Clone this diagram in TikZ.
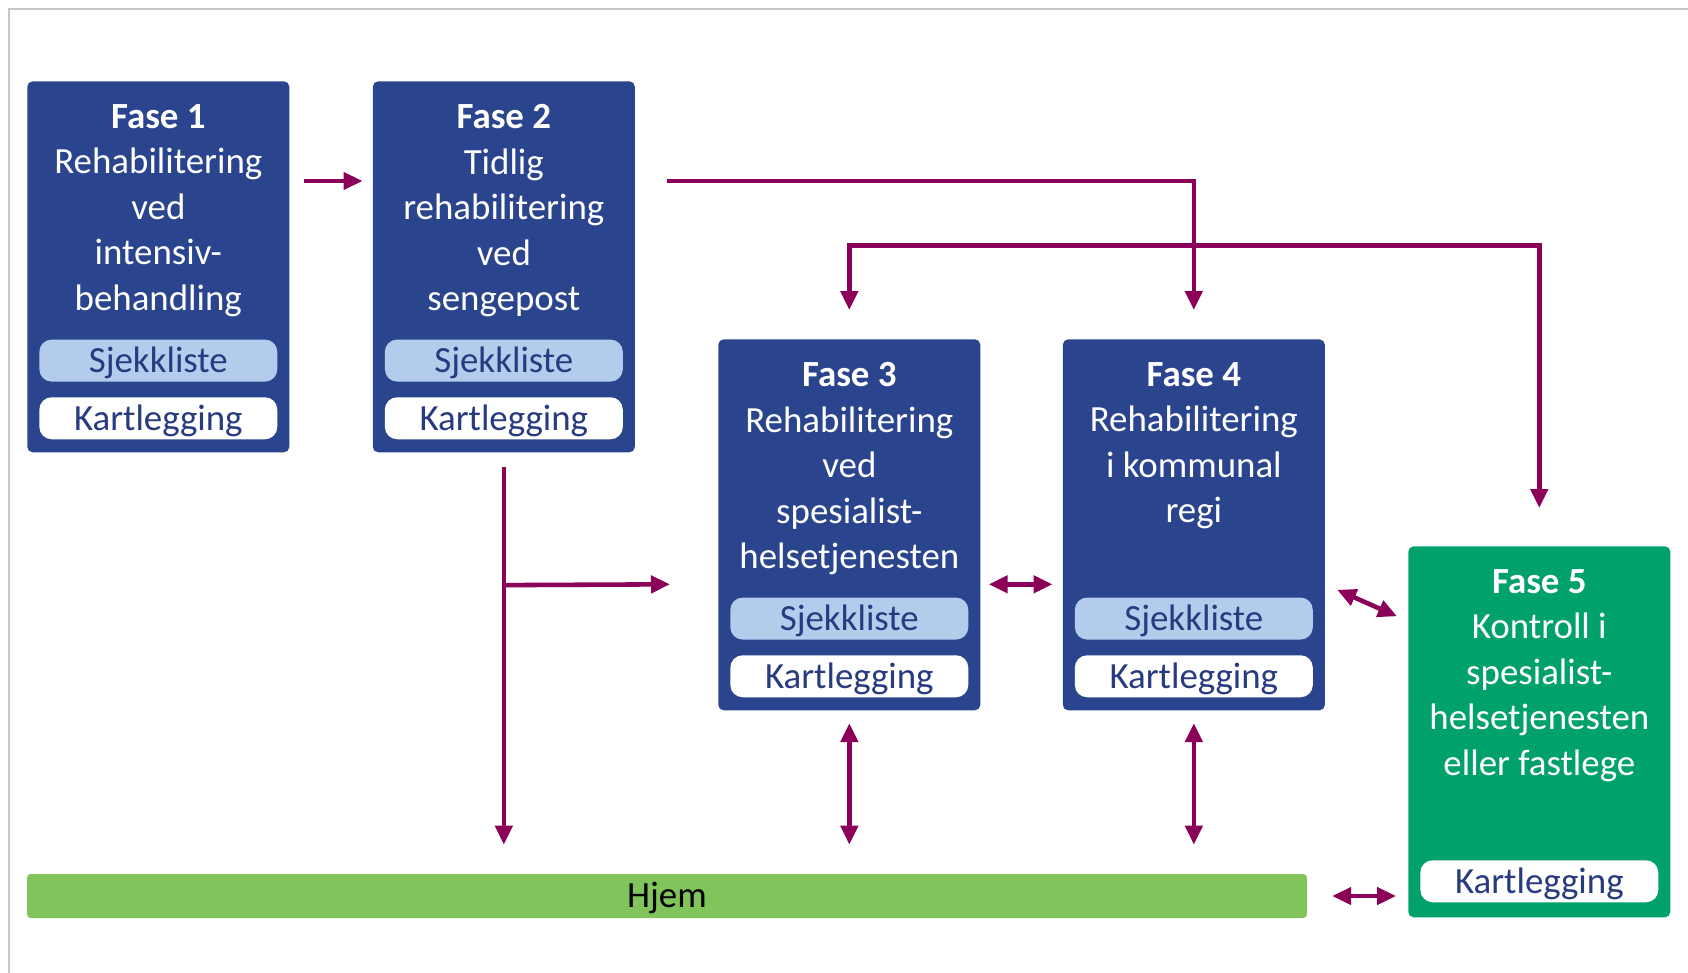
\documentclass[tikz,border=0pt]{standalone}
\usepackage{fontspec}
\setmainfont{Carlito}
\usetikzlibrary{arrows.meta,calc}

\definecolor{faseblaa}{RGB}{42,68,142}
\definecolor{sjekkblaa}{RGB}{180,204,236}
\definecolor{tekstblaa}{RGB}{40,58,128}
\definecolor{fasegronn}{RGB}{0,161,106}
\definecolor{hjemgronn}{RGB}{130,196,92}
\definecolor{pilfarge}{RGB}{139,0,88}

\newcommand{\storfont}{\fontsize{21}{25.9}\selectfont}

\begin{document}
\begin{tikzpicture}[x=0.02cm, y=-0.02cm,
    >={Triangle[length=0.38cm,width=0.34cm]},
    fase/.style={fill=faseblaa, rounded corners=3pt, minimum width=5.24cm,
      minimum height=7.42cm, inner sep=0pt, anchor=north west},
    fasetekst/.style={text=white, align=center, inner sep=0pt, anchor=north, font=\storfont},
    pille/.style={rounded corners=7pt, minimum width=4.76cm, minimum height=0.84cm,
      inner sep=0pt, text height=17.4pt, text depth=4pt, text=tekstblaa, font=\storfont,
      anchor=south},
    sjekk/.style={pille, fill=sjekkblaa},
    kart/.style={pille, fill=white},
    pil/.style={draw=pilfarge, line width=2.6pt}]
  \useasboundingbox (0,0) rectangle (1688,973);
  % ramme fra skjermbildet
  \draw[black!22, line width=1.2pt] (9,973) -- (9,9) -- (1688,9);

  % fasene
  \node[fase] (fase1) at (27,81) {};
  \node[fase] (fase2) at (372.5,81) {};
  \node[fase] (fase3) at (718,339) {};
  \node[fase] (fase4) at (1062.5,339) {};
  \node[fase, fill=fasegronn] (fase5) at (1408,546) {};

  \node[fasetekst] (tekst1) at ($(fase1.north)+(0,23)$)
    {\textbf{Fase 1}\\Rehabilitering\\ved\\intensiv-\\behandling};
  \node[fasetekst] (tekst2) at ($(fase2.north)+(0,23)$)
    {\textbf{Fase 2}\\Tidlig\\rehabilitering\\ved\\sengepost};
  \node[fasetekst] (tekst3) at ($(fase3.north)+(0,23)$)
    {\textbf{Fase 3}\\Rehabilitering\\ved\\spesialist-\\helsetjenesten};
  \node[fasetekst] (tekst4) at ($(fase4.north)+(0,23)$)
    {\textbf{Fase 4}\\Rehabilitering\\i kommunal\\regi};
  \node[fasetekst] (tekst5) at ($(fase5.north)+(0,23)$)
    {\textbf{Fase 5}\\Kontroll i\\spesialist-\\helsetjenesten\\eller fastlege};

  % sjekkliste og kartlegging
  \node[kart] (kart1) at ($(fase1.south)+(0,-13)$) {Kartlegging};
  \node[sjekk] (sjekk1) at ($(kart1.north)+(0,-15)$) {Sjekkliste};
  \node[kart] (kart2) at ($(fase2.south)+(0,-13)$) {Kartlegging};
  \node[sjekk] (sjekk2) at ($(kart2.north)+(0,-15)$) {Sjekkliste};
  \node[kart] (kart3) at ($(fase3.south)+(0,-13)$) {Kartlegging};
  \node[sjekk] (sjekk3) at ($(kart3.north)+(0,-15)$) {Sjekkliste};
  \node[kart] (kart4) at ($(fase4.south)+(0,-13)$) {Kartlegging};
  \node[sjekk] (sjekk4) at ($(kart4.north)+(0,-15)$) {Sjekkliste};
  \node[kart] (kart5) at ($(fase5.south)+(0,-15)$) {Kartlegging};

  % hjem
  \node[fill=hjemgronn, rounded corners=2pt, minimum width=25.6cm, minimum height=0.88cm,
    inner sep=0pt, text height=17.4pt, text depth=4pt, font=\storfont] (hjem) at (667,896) {Hjem};

  % piler
  \draw[pil,->] ($(fase1.north east)+(14,100)$) -- ($(fase2.north west)+(-10,100)$);
  \draw[pil,->] ($(fase2.north east)+(32,100)$) -| ($(fase4.north)+(0,-29)$);
  \draw[pil,<->] ($(fase3.north)+(0,-29)$) -- ($(fase3.north)+(0,-93.5)$)
    -| ($(fase5.north)+(0,-38)$);
  \draw[pil,->] ($(fase2.south)+(0,14)$) -- ($(hjem.north -| fase2.south)+(0,-29)$);
  \draw[pil,->] ($(fase2.south)+(0,132.5)$) -- ($(fase3.west)+(-48,59.5)$);
  \draw[pil,<->] ($(fase3.east)+(8,59.5)$) -- ($(fase4.west)+(-10,59.5)$);
  \draw[pil,<->] ($(fase4.east)+(12,65)$) -- ($(fase5.west)+(-11,-115.5)$);
  \draw[pil,<->] ($(fase3.south)+(0,12.5)$) -- ($(hjem.north -| fase3.south)+(0,-29)$);
  \draw[pil,<->] ($(fase4.south)+(0,12.5)$) -- ($(hjem.north -| fase4.south)+(0,-29)$);
  \draw[pil,<->] ($(hjem.east)+(25,0)$) -- ($(hjem.east -| fase5.west)+(-12,0)$);
\end{tikzpicture}
\end{document}
